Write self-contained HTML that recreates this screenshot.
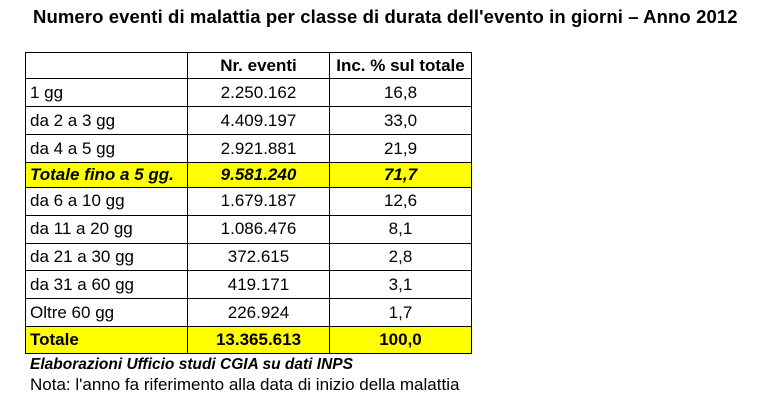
<!DOCTYPE html>
<html><head><meta charset="utf-8"><style>
body{margin:0;width:781px;height:411px;background:#fff;font-family:"Liberation Sans",sans-serif;position:relative;overflow:hidden;color:#000}
#title{position:absolute;left:33px;top:6px;font-weight:bold;font-size:18.5px;white-space:nowrap;letter-spacing:0.1px}
table{position:absolute;left:25px;top:52px;border-collapse:collapse;font-size:17px;table-layout:fixed}
td{border:1px solid #000;padding:0 4px;height:26px;white-space:nowrap;overflow:hidden}
td.c{text-align:center}
tr.h td{font-weight:bold;height:25px}
tr.y td{background:#ffff00;font-weight:bold;height:24px}
tr.y.i td{font-style:italic}
.cap{position:absolute;left:30px;white-space:nowrap}
</style></head><body>
<div id="title">Numero eventi di malattia per classe di durata dell'evento in giorni – Anno 2012</div>
<table>
<colgroup><col style="width:162px"><col style="width:142px"><col style="width:142px"></colgroup>
<tr class="h"><td></td><td class="c">Nr. eventi</td><td class="c">Inc. % sul totale</td></tr>
<tr><td style="height:27px">1 gg</td><td class="c">2.250.162</td><td class="c">16,8</td></tr>
<tr><td style="height:27px">da 2 a 3 gg</td><td class="c">4.409.197</td><td class="c">33,0</td></tr>
<tr><td style="height:27px">da 4 a 5 gg</td><td class="c">2.921.881</td><td class="c">21,9</td></tr>
<tr class="y i"><td>Totale fino a 5 gg.</td><td class="c">9.581.240</td><td class="c">71,7</td></tr>
<tr><td style="height:26.8px">da 6 a 10 gg</td><td class="c">1.679.187</td><td class="c">12,6</td></tr>
<tr><td style="height:26.8px">da 11 a 20 gg</td><td class="c">1.086.476</td><td class="c">8,1</td></tr>
<tr><td style="height:26.8px">da 21 a 30 gg</td><td class="c">372.615</td><td class="c">2,8</td></tr>
<tr><td style="height:26.8px">da 31 a 60 gg</td><td class="c">419.171</td><td class="c">3,1</td></tr>
<tr><td style="height:26.8px">Oltre 60 gg</td><td class="c">226.924</td><td class="c">1,7</td></tr>
<tr class="y"><td style="height:26px">Totale</td><td class="c">13.365.613</td><td class="c">100,0</td></tr>
</table>
<div class="cap" style="top:356px;font-size:15.5px;font-weight:bold;font-style:italic">Elaborazioni Ufficio studi CGIA su dati INPS</div>
<div class="cap" style="top:375px;font-size:17px">Nota: l'anno fa riferimento alla data di inizio della malattia</div>
</body></html>
